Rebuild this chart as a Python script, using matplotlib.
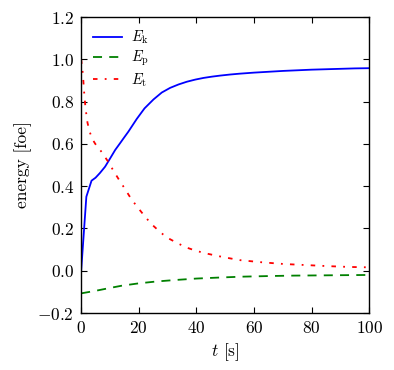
import numpy as np
import matplotlib
matplotlib.use('Agg')
import matplotlib.pyplot as plt

plt.rcParams['font.family'] = 'serif'
plt.rcParams['font.serif'] = ['cmr10']
plt.rcParams['mathtext.fontset'] = 'cm'
plt.rcParams['axes.formatter.use_mathtext'] = True

# kinetic energy
t_k = [0, 1.8, 3.6, 5, 6.5, 8.3, 10, 11.8, 13.5, 14.7, 16.4, 19.3, 22, 25.1,
       28, 30.9, 33.8, 36.7, 39.6, 42.5, 45.4, 48.3, 51.7, 55, 60, 65, 70, 75,
       80, 85, 90, 95, 100]
E_k = [0.0, 0.35, 0.426, 0.44, 0.462, 0.492, 0.53, 0.571, 0.603, 0.626, 0.658,
       0.718, 0.768, 0.81, 0.843, 0.865, 0.881, 0.894, 0.904, 0.912, 0.918,
       0.923, 0.928, 0.932, 0.937, 0.941, 0.945, 0.948, 0.951, 0.953, 0.955,
       0.957, 0.958]

# potential energy
t_p = [0, 5, 9.4, 14, 19.8, 26, 32.5, 40, 48.3, 56, 65.6, 74, 83, 91, 100]
E_p = [-0.107, -0.095, -0.083, -0.071, -0.06, -0.051, -0.044, -0.037, -0.032,
       -0.028, -0.025, -0.023, -0.022, -0.021, -0.020]

# thermal energy
t_t = [0, 0.6, 1.0, 1.5, 2.2, 3, 4, 4.9, 7.2, 9.5, 11.2, 13.2, 15.3, 17.4,
       19.6, 22, 24.3, 26.7, 28.5, 30.2, 33.2, 36.5, 40.2, 44, 47.7, 51.5,
       55.2, 62.7, 70.2, 77.8, 85.3, 92.8, 100]
E_t = [1.0, 0.93, 0.85, 0.77, 0.70, 0.655, 0.62, 0.60, 0.56, 0.513, 0.473,
       0.429, 0.385, 0.339, 0.30, 0.259, 0.222, 0.192, 0.171, 0.154, 0.132, 0.11,
       0.093, 0.08, 0.069, 0.059, 0.05, 0.04, 0.032, 0.027, 0.022, 0.018, 0.016]

fig = plt.figure(figsize=(3.94, 3.70), dpi=100)
ax = fig.add_axes([0.206, 0.154, 0.731, 0.8])

ax.plot(t_k, E_k, color='b', lw=1.3, label=r'$E_\mathrm{k}$')
ax.plot(t_p, E_p, color='g', lw=1.3, ls=(0, (5, 4)), label=r'$E_\mathrm{p}$')
ax.plot(t_t, E_t, color='r', lw=1.3, ls=(0, (2.5, 4, 1, 4)), label=r'$E_\mathrm{t}$')

ax.set_xlim(0, 100)
ax.set_ylim(-0.2, 1.2)
ax.set_xticks(np.arange(0, 101, 20))
ax.set_yticks(np.arange(-0.2, 1.21, 0.2))
ax.tick_params(direction='in', top=True, right=True, length=4, width=0.8,
               labelsize=12.5, pad=5)
for s in ax.spines.values():
    s.set_linewidth(1.0)

ax.set_xlabel(r'$t$ [s]', fontsize=12.5)
ax.set_ylabel('energy [foe]', fontsize=12.5)
ax.legend(loc='upper left', frameon=False, fontsize=10.5, handlelength=2.0,
          handletextpad=0.6, labelspacing=0.2, borderaxespad=0.4)

fig.savefig('out.png', dpi=100)
